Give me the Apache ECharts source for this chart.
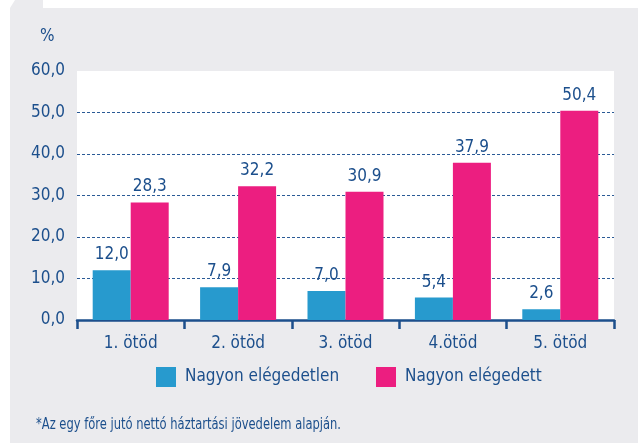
<!DOCTYPE html>
<html>
<head>
<meta charset="utf-8">
<script src="https://cdn.jsdelivr.net/npm/echarts@6/dist/echarts.min.js"></script>
<style>
    html, body { margin: 0; padding: 0; background: #fff; }
    #wrap { position: relative; width: 638px; height: 443px; }
    /* gray panel with small tab at the top left */
    #panel {
        position: absolute; left: 10px; top: 0; width: 628px; height: 443px;
        background: #EBEBEE;
        clip-path: polygon(0 8px, 5px 0, 33px 0, 33px 8px, 100% 8px, 100% 100%, 0 100%);
    }
    #chart { position: absolute; left: 0; top: 0; width: 638px; height: 443px; }
</style>
</head>
<body>
<div id="wrap">
    <div id="panel"></div>
    <div id="chart"></div>
</div>
<script>
const categories = ['1. ötöd', '2. ötöd', '3. ötöd', '4.ötöd', '5. ötöd']
const veryUnhappy = [12.0, 7.9, 7.0, 5.4, 2.6]
const veryHappy = [28.3, 32.2, 30.9, 37.9, 50.4]
const seriesNames = ['Nagyon elégedetlen', 'Nagyon elégedett']
const footnote = '*Az egy főre jutó nettó háztartási jövedelem alapján.'

const font = '"Liberation Sans Narrow", "DejaVu Sans Condensed", sans-serif'
const ink = '#1C4F8C'
const comma = v => v.toFixed(1).replace('.', ',')

const chart = echarts.init(document.getElementById('chart'), null, {renderer: 'canvas'})

const legendBase = {
    orient: 'horizontal', top: 367, padding: 0, itemWidth: 20, itemHeight: 20,
    icon: 'rect', selectedMode: false,
    textStyle: {color: ink, fontFamily: font, fontSize: 17, padding: [0, 0, 0, 4]}
}

const barLabel = {
    show: true, position: 'top', distance: 7, color: ink,
    fontSize: 17, fontFamily: font, formatter: p => comma(p.value)
}

chart.setOption({
    backgroundColor: 'transparent',
    animation: false,
    textStyle: {fontFamily: font},
    grid: {
        left: 77, right: 24, top: 71, bottom: 123,
        show: true, backgroundColor: '#fff', borderWidth: 0
    },
    legend: [
        {...legendBase, left: 156, data: [seriesNames[0]]},
        {...legendBase, left: 376, data: [seriesNames[1]]}
    ],
    xAxis: {
        type: 'category',
        data: categories,
        axisLine: {lineStyle: {color: ink, width: 2.5}},
        axisTick: {show: true, interval: 0, alignWithLabel: false, length: 9, lineStyle: {color: ink, width: 2.5}},
        axisLabel: {color: ink, fontSize: 17, margin: 15, fontFamily: font}
    },
    yAxis: {
        type: 'value', min: 0, max: 60, interval: 10,
        axisLine: {show: false}, axisTick: {show: false},
        axisLabel: {color: ink, fontSize: 17, margin: 12, fontFamily: font, formatter: v => comma(v)},
        splitLine: {
            showMinLine: false, showMaxLine: false,
            lineStyle: {color: '#2A5A96', type: [3, 2], width: 1}
        }
    },
    series: [
        {
            name: seriesNames[0], type: 'bar', data: veryUnhappy,
            barWidth: 38, barGap: '0%',
            itemStyle: {color: '#279ACE'},
            label: barLabel
        },
        {
            name: seriesNames[1], type: 'bar', data: veryHappy,
            barWidth: 38, barGap: '0%',
            itemStyle: {color: '#EC1E80'},
            label: barLabel
        }
    ],
    graphic: [
        {type: 'text', left: 40, top: 28, style: {text: '%', fill: ink, font: '17px ' + font}},
        {type: 'text', x: 36, y: 417, scaleX: 0.8, style: {text: footnote, fill: ink, font: '16px ' + font}}
    ]
})
</script>
</body>
</html>
